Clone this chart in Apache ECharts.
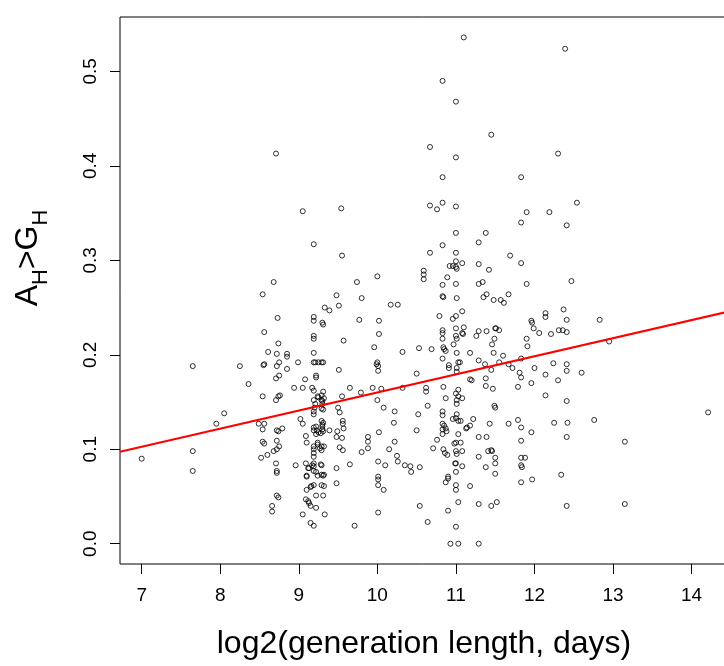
<!DOCTYPE html>
<html><head><meta charset="utf-8">
<script src="https://cdn.jsdelivr.net/npm/echarts@6/dist/echarts.min.js"></script>
<style>html,body{margin:0;padding:0;background:#fff}#c{width:724px;height:666px}</style>
</head><body><div id="c"></div>
<script>
// tick labels
const xTicks = [7, 8, 9, 10, 11, 12, 13, 14];
const yTicks = [0, 0.1, 0.2, 0.3, 0.4, 0.5];
// fitted regression line, read at the two edges of the plot box
const fitX = [6.724, 14.514];
const fitY = [0.0974, 0.2466];
// points [log2(generation length), A_H>G_H], grouped by x range
const ptsBelow85 = [[7.00,0.090],[7.65,0.188],[7.65,0.098],[7.65,0.077],[7.95,0.127],[8.05,0.138],[8.25,0.188],[8.36,0.169],[8.49,0.127]];
const pts85to9 = [[8.54,0.264],[8.56,0.224],[8.55,0.189],[8.56,0.190],[8.54,0.156],[8.56,0.127],[8.54,0.121],[8.54,0.108],[8.56,0.106],[8.52,0.091],
 [8.61,0.203],[8.68,0.277],[8.71,0.413],[8.73,0.239],[8.74,0.212],[8.72,0.201],[8.72,0.188],[8.75,0.192],[8.71,0.175],[8.75,0.178],
 [8.71,0.152],[8.74,0.156],[8.76,0.157],[8.72,0.120],[8.74,0.119],[8.79,0.122],[8.72,0.109],[8.72,0.100],[8.75,0.103],[8.68,0.098],
 [8.60,0.094],[8.71,0.085],[8.72,0.077],[8.72,0.075],[8.72,0.051],[8.74,0.049],[8.66,0.040],[8.66,0.034],[8.85,0.201],[8.85,0.198],
 [8.85,0.185],[8.94,0.165],[8.96,0.083],[8.99,0.192]];
const pts9to95 = [[9.05,0.352],[9.05,0.165],[9.08,0.174],[9.02,0.132],[9.05,0.127],[9.05,0.031],[9.09,0.114],[9.10,0.107],[9.09,0.085],[9.12,0.080],
 [9.10,0.072],[9.10,0.057],[9.09,0.047],[9.12,0.045],[9.15,0.040],[9.15,0.022],[9.19,0.019],[9.22,0.038],[9.19,0.317],[9.19,0.240],
 [9.19,0.236],[9.19,0.220],[9.19,0.217],[9.19,0.202],[9.19,0.192],[9.21,0.192],[9.17,0.165],[9.19,0.162],[9.22,0.178],[9.22,0.176],
 [9.25,0.192],[9.29,0.192],[9.31,0.192],[9.19,0.152],[9.21,0.148],[9.19,0.140],[9.19,0.137],[9.20,0.144],[9.19,0.123],[9.19,0.120],
 [9.22,0.124],[9.22,0.116],[9.25,0.118],[9.19,0.103],[9.19,0.100],[9.19,0.096],[9.19,0.092],[9.19,0.085],[9.19,0.082],[9.17,0.083],
 [9.19,0.077],[9.22,0.076],[9.22,0.051],[9.19,0.062],[9.15,0.060],[9.24,0.107],[9.25,0.155],[9.29,0.157],[9.29,0.152],[9.30,0.151],
 [9.30,0.148],[9.31,0.161],[9.29,0.143],[9.31,0.142],[9.30,0.234],[9.31,0.232],[9.33,0.250],[9.39,0.247],[9.29,0.130],[9.31,0.128],
 [9.30,0.126],[9.30,0.121],[9.31,0.119],[9.28,0.117],[9.29,0.103],[9.32,0.103],[9.29,0.099],[9.29,0.083],[9.29,0.073],[9.31,0.072],
 [9.29,0.062],[9.31,0.051],[9.33,0.031],[9.39,0.120],[9.48,0.263],
 [9.32,0.154],[9.24,0.156],[9.23,0.120],[9.30,0.124],[9.24,0.105],[9.27,0.101],[9.13,0.080],[9.24,0.072],[9.10,0.071],[9.32,0.073],
 [9.16,0.061],[9.13,0.043],[9.32,0.061],[9.28,0.084]];
const pts95to105 = [[9.51,0.252],[9.51,0.184],[9.48,0.113],[9.49,0.119],[9.50,0.144],[9.52,0.139],[9.54,0.355],[9.55,0.305],[9.55,0.156],[9.57,0.215],
 [9.56,0.130],[9.56,0.127],[9.57,0.122],[9.55,0.112],[9.52,0.102],[9.56,0.099],[9.48,0.080],[9.48,0.064],[9.65,0.165],[9.65,0.084],
 [9.71,0.019],[9.74,0.277],[9.77,0.237],[9.79,0.160],[9.80,0.260],[9.80,0.097],[9.88,0.108],[9.88,0.113],[9.88,0.101],[9.94,0.165],
 [9.96,0.208],[10.00,0.283],[9.99,0.190],[10.00,0.192],[10.01,0.188],[10.01,0.183],[10.02,0.236],[10.02,0.222],[10.00,0.152],[10.02,0.118],
 [10.01,0.087],[10.01,0.071],[10.01,0.068],[10.01,0.062],[10.01,0.033],[10.10,0.083],[10.05,0.164],[10.08,0.144],[10.08,0.057],[10.15,0.100],
 [10.17,0.253],[10.26,0.253],[10.22,0.140],[10.21,0.128],[10.22,0.108],[10.25,0.093],[10.26,0.087],[10.32,0.203],[10.32,0.165],[10.35,0.083],
 [10.42,0.082],[10.43,0.076],[10.50,0.180],[10.52,0.137],[10.50,0.120],[10.53,0.207],[10.54,0.081],[10.54,0.040]];
const pts105to11 = [[10.59,0.289],[10.59,0.285],[10.59,0.280],[10.62,0.165],[10.62,0.161],[10.64,0.146],[10.64,0.023],[10.67,0.420],[10.67,0.358],[10.67,0.308],
 [10.69,0.206],[10.71,0.101],[10.76,0.354],[10.76,0.110],[10.79,0.241],[10.83,0.490],[10.83,0.388],[10.83,0.361],[10.83,0.316],[10.83,0.274],
 [10.83,0.262],[10.84,0.261],[10.83,0.226],[10.83,0.223],[10.83,0.217],[10.84,0.208],[10.85,0.206],[10.87,0.204],[10.83,0.196],[10.84,0.166],
 [10.83,0.140],[10.83,0.136],[10.83,0.127],[10.85,0.125],[10.83,0.121],[10.87,0.122],[10.88,0.119],[10.83,0.116],[10.84,0.100],[10.86,0.096],
 [10.89,0.094],[10.87,0.065],[10.90,0.071],[10.90,0.069],[10.90,0.035],[10.93,0.000],[10.89,0.282],[10.91,0.189],[10.91,0.186],[10.87,0.154],
 [10.96,0.294],[10.96,0.238],[10.97,0.211],[10.96,0.132],[10.98,0.106],[10.99,0.085],[10.92,0.294]];
const pts11to115 = [[11.00,0.468],[11.00,0.409],[11.00,0.357],[11.00,0.329],[11.00,0.308],[11.00,0.299],[11.00,0.293],[11.01,0.291],[11.00,0.275],[11.01,0.260],
 [11.00,0.241],[11.00,0.228],[11.00,0.220],[11.01,0.217],[11.01,0.202],[11.03,0.192],[11.01,0.186],[11.01,0.182],[11.00,0.159],[11.03,0.163],
 [11.01,0.152],[11.01,0.148],[11.03,0.156],[11.05,0.192],[11.08,0.223],[11.08,0.246],[11.08,0.297],[11.10,0.229],[11.01,0.137],[11.00,0.133],
 [11.03,0.130],[11.06,0.130],[11.03,0.116],[11.06,0.107],[11.00,0.107],[11.00,0.098],[11.01,0.095],[11.08,0.098],[11.00,0.085],[11.08,0.082],
 [11.00,0.076],[11.00,0.062],[11.00,0.057],[11.03,0.044],[11.00,0.018],[11.03,0.000],[11.08,0.154],[11.13,0.122],[11.18,0.125],[11.18,0.202],
 [11.18,0.174],[11.20,0.173],[11.18,0.061],[11.22,0.132],[11.26,0.220],[11.29,0.225],[11.29,0.194],[11.29,0.319],[11.29,0.296],[11.29,0.275],
 [11.29,0.113],[11.29,0.092],[11.29,0.042],[11.29,0.000],[11.34,0.277],[11.35,0.261],[11.39,0.264],[11.38,0.329],[11.39,0.225],[11.37,0.190],
 [11.38,0.175],[11.38,0.167],[11.42,0.290],[11.43,0.127],[11.39,0.113],[11.41,0.098],[11.45,0.099],[11.46,0.098],[11.38,0.081],[11.45,0.433],
 [11.47,0.164],[11.45,0.184],[11.46,0.211],[11.48,0.258],[11.50,0.228],[11.51,0.228],[11.49,0.217],[11.48,0.202],[11.49,0.146],[11.50,0.144],
 [11.50,0.091],[11.50,0.085],[11.50,0.074],[11.45,0.040],[11.52,0.044],[11.10,0.536],[11.14,0.123],[11.09,0.222]];
const ptsAbove115 = [[11.55,0.226],[11.57,0.258],[11.61,0.255],[11.60,0.199],[11.55,0.192],[11.67,0.264],[11.69,0.305],[11.67,0.190],[11.72,0.186],[11.67,0.127],
 [11.79,0.166],[11.79,0.131],[11.83,0.388],[11.83,0.340],[11.83,0.297],[11.83,0.196],[11.81,0.181],[11.83,0.176],[11.83,0.123],[11.83,0.109],
 [11.83,0.091],[11.88,0.091],[11.83,0.083],[11.84,0.081],[11.83,0.065],[11.90,0.351],[11.90,0.275],[11.90,0.217],[11.91,0.209],[11.96,0.236],
 [11.97,0.234],[11.99,0.228],[11.96,0.170],[12.00,0.186],[11.96,0.118],[11.97,0.068],[12.06,0.223],[12.14,0.244],[12.14,0.240],[12.14,0.179],
 [12.14,0.157],[12.19,0.351],[12.21,0.222],[12.24,0.191],[12.25,0.128],[12.30,0.413],[12.30,0.173],[12.31,0.226],[12.34,0.073],[12.36,0.226],
 [12.37,0.248],[12.39,0.524],[12.41,0.337],[12.41,0.237],[12.41,0.224],[12.41,0.190],[12.41,0.183],[12.41,0.151],[12.42,0.128],[12.41,0.113],
 [12.41,0.040],[12.47,0.278],[12.54,0.361],[12.60,0.181],[12.76,0.131],[12.83,0.237],[12.95,0.214],[13.15,0.108],[13.15,0.042],[14.21,0.139]];

const points = [].concat(ptsBelow85, pts85to9, pts9to95, pts95to105, pts105to11, pts11to115, ptsAbove115);
const fitLine = fitX.map((x, i) => [x, fitY[i]]);

const FONT = '"Liberation Sans", Arial, Helvetica, sans-serif';
const chart = echarts.init(document.getElementById('c'), null, {renderer: 'canvas'});
chart.setOption({
  animation: false,
  backgroundColor: '#ffffff',
  grid: {left: 120, top: 17, right: -8, bottom: 102, show: true, borderColor: '#000', borderWidth: 1,
         backgroundColor: 'transparent', containLabel: false, outerBoundsMode: 'none'},
  xAxis: {
    type: 'value', min: 6.724, max: 14.514,
    axisLine: {show: false, onZero: false}, splitLine: {show: false},
    axisTick: {show: true, customValues: xTicks, length: 10, lineStyle: {color: '#000', width: 1}},
    axisLabel: {customValues: xTicks, fontSize: 19, color: '#000', fontFamily: FONT, margin: 22}
  },
  yAxis: {
    type: 'value', min: -0.0215, max: 0.5576,
    axisLine: {show: false, onZero: false}, splitLine: {show: false},
    axisTick: {show: true, customValues: yTicks, length: 10, lineStyle: {color: '#000', width: 1}},
    axisLabel: {customValues: yTicks, rotate: 90, fontSize: 19, color: '#000', fontFamily: FONT, margin: 20,
                formatter: v => v.toFixed(1)}
  },
  graphic: [
    {type: 'text', x: 424, y: 644, silent: true,
     style: {text: 'log2(generation length, days)', fontSize: 32, fontFamily: FONT, fill: '#000',
             align: 'center', verticalAlign: 'middle'}},
    {type: 'text', x: 28, y: 258, rotation: Math.PI / 2, silent: true,
     style: {text: '{m|A}{s|H}{m|>G}{s|H}', align: 'center', verticalAlign: 'middle',
             rich: {
               m: {fontSize: 32, lineHeight: 32, verticalAlign: 'top', fontFamily: FONT, fill: '#000'},
               s: {fontSize: 22, lineHeight: 22, padding: [18, 0, 0, 0], verticalAlign: 'top', fontFamily: FONT, fill: '#000'}
             }}}
  ],
  series: [
    {type: 'scatter', data: points, symbol: 'circle', symbolSize: 5, silent: true,
     itemStyle: {color: 'rgba(0,0,0,0)', borderColor: '#000', borderWidth: 1}},
    {type: 'line', data: fitLine, symbol: 'none', silent: true, clip: true,
     lineStyle: {color: '#ff0000', width: 2}}
  ]
});
</script>
</body></html>
